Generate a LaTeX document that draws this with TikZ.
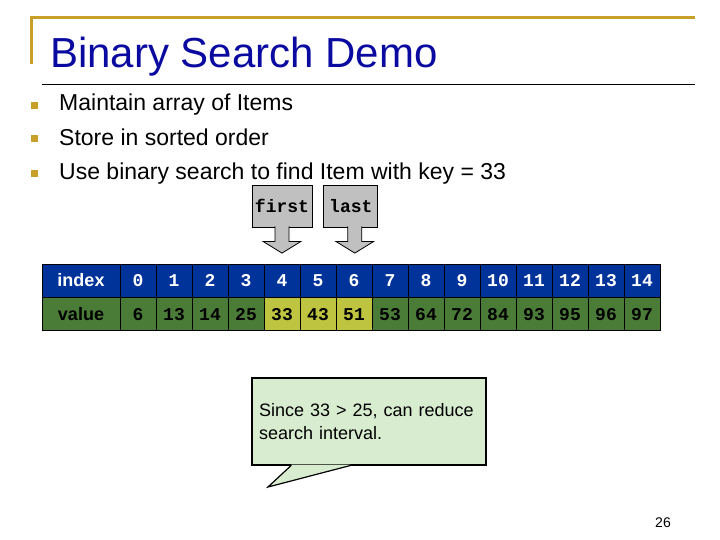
\documentclass[tikz,border=0pt]{standalone}
\usepackage{fontspec}
\setmainfont{Liberation Sans}
\setmonofont{Liberation Mono}
\usetikzlibrary{positioning}

\definecolor{ouro}{RGB}{200,160,40}
\definecolor{azultitulo}{RGB}{10,10,160}
\definecolor{azul}{RGB}{0,51,153}
\definecolor{verde}{RGB}{74,124,56}
\definecolor{amarelo}{RGB}{190,196,64}
\definecolor{verdeclaro}{RGB}{216,236,208}
\definecolor{cinza}{RGB}{192,192,192}

\tikzset{
  celula/.style={draw=black, line width=0.8pt, minimum width=36pt, minimum height=33pt,
    inner sep=0pt, font=\fontsize{18}{20}\selectfont\ttfamily\bfseries},
  rotulo/.style={celula, minimum width=78pt, font=\fontsize{18}{20}\selectfont\bfseries},
  ponteiro/.style={draw=black, fill=cinza, line width=0.8pt, minimum height=42pt,
    inner sep=0pt, font=\fontsize{18}{20}\selectfont\ttfamily\bfseries},
  marcador/.style={fill=ouro, minimum size=7pt, inner sep=0pt},
  item/.style={anchor=base west, inner sep=0pt, font=\fontsize{23}{26}\selectfont},
  nota/.style={draw=black, fill=verdeclaro, line width=1.2pt, minimum width=234pt,
    minimum height=87pt, text width=220pt, align=left, inner sep=0pt,
    font=\fontsize{18}{22.5}\selectfont}
}

\begin{document}
\begin{tikzpicture}[x=1pt, y=-1pt]
    \useasboundingbox (0,0) rectangle (720,540);

    % Linhas do slide
    \draw[ouro, line width=3pt] (31,64) -- (31,18) -- (695,18);
    \draw[line width=1pt] (42,85) -- (695,85);

    % Titulo
    \node[anchor=base west, inner sep=0pt, font=\fontsize{42}{48}\selectfont,
      text=azultitulo] (titulo) at (50,68) {Binary Search Demo};

    % Itens
    \node[marcador] (m1) at (34.5,105.5) {};
    \node[marcador] (m2) at (34.5,139) {};
    \node[marcador] (m3) at (34.5,173.5) {};
    \node[item] (t1) at (59,111) {Maintain array of Items};
    \node[item] (t2) at (59,145.5) {Store in sorted order};
    \node[item] (t3) at (59,180) {Use binary search to find Item with key = 33};

    % Tabela
    \node[rotulo, fill=azul, text=white] (idx) at (81,280.5) {index};
    \node[rotulo, fill=verde, below=0pt of idx] (val) {value};
    \foreach \v [count=\i from 0] in {6,13,14,25,33,43,51,53,64,72,84,93,95,96,97} {
      \def\cor{verde}
      \ifnum\i>3 \ifnum\i<7 \def\cor{amarelo}\fi\fi
      \node[celula, fill=azul, text=white] (i\i) at ({138+36*\i},280.5) {\i};
      \node[celula, fill=\cor, below=0pt of i\i] (v\i) {\v};
    }

    % Ponteiros first e last
    \node[ponteiro, minimum width=60pt] (first) at (282,206) {first};
    \node[ponteiro, minimum width=54pt, right=11pt of first] (last) {last};
    \draw[fill=cinza, line width=0.8pt] ([shift={(-7,-1)}]first.south) -- ++(0,15)
      -- ++(-12,0) -- ++(19,11.7) -- ++(19,-11.7) -- ++(-12,0) -- ++(0,-15);
    \draw[fill=cinza, line width=0.8pt] ([shift={(-3,-1)}]last.south) -- ++(0,15)
      -- ++(-12,0) -- ++(19,11.7) -- ++(19,-11.7) -- ++(-12,0) -- ++(0,-15);

    % Balao
    \node[nota] (nota) at (369,421.5) {Since 33 > 25, can reduce\\search interval.};
    \coordinate (ponta) at (268,487);
    \draw[fill=verdeclaro, line width=1.2pt] ([shift={(-78,-1)}]nota.south)
      -- ([xshift=-78pt]nota.south) -- (ponta) -- ([xshift=-19pt]nota.south)
      -- ([shift={(-19,-1)}]nota.south);

    % Numero da pagina
    \node[anchor=base east, inner sep=0pt, font=\fontsize{14}{16}\selectfont]
      (pagina) at (671,527) {26};

\end{tikzpicture}
\end{document}
